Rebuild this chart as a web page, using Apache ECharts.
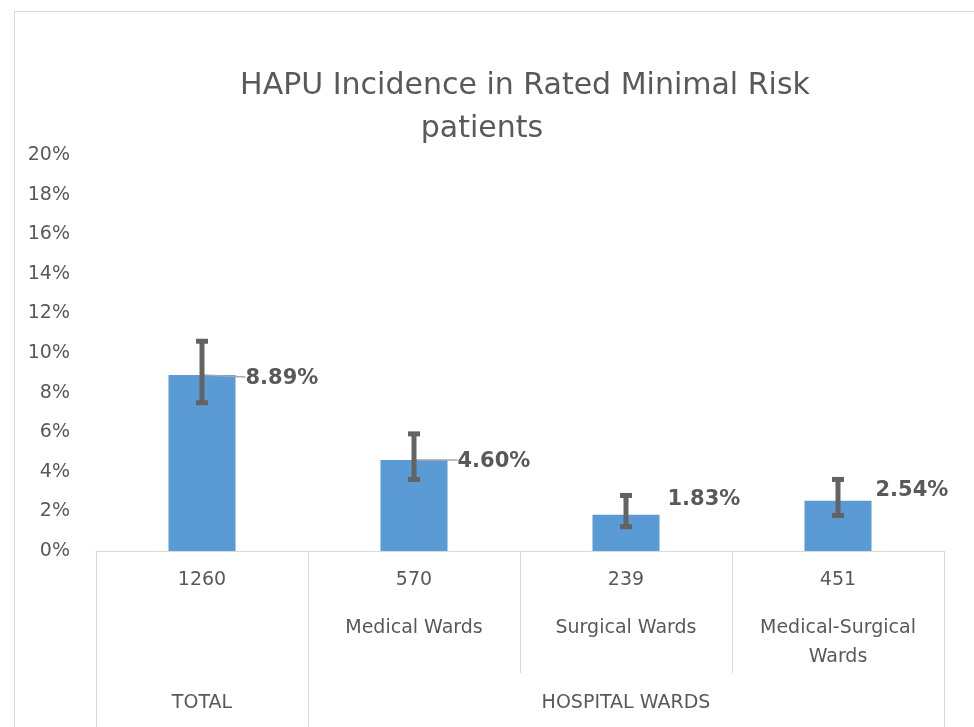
<!DOCTYPE html>
<html>
<head>
<meta charset="utf-8">
<script src="https://cdn.jsdelivr.net/npm/echarts@6/dist/echarts.min.js"></script>
<style>
    html, body { margin: 0; padding: 0; background: #fff; }
    #chart { width: 974px; height: 727px; }
</style>
</head>
<body>
<div id="chart"></div>
<script>
    // 数据
    const sampleSizes = ['1260', '570', '239', '451']
    const wardNames = ['', 'Medical Wards', 'Surgical Wards', 'Medical-Surgical\nWards']
    const incidence = [8.89, 4.60, 1.83, 2.54]
    const errLow = [7.46, 3.59, 1.20, 1.77]
    const errHigh = [10.62, 5.94, 2.83, 3.64]
    const groupNames = ['TOTAL', 'HOSPITAL WARDS']
    const groupSpans = [1, 3]
    const yTicks = [0, 2, 4, 6, 8, 10, 12, 14, 16, 18, 20]

    // 二级分类轴: 组名放在每组中间
    const groupAxisData = []
    const groupStarts = []
    groupNames.forEach(function (name, g) {
        groupStarts.push(groupAxisData.length)
        for (let k = 0; k < groupSpans[g]; k++) {
            groupAxisData.push(k === Math.floor(groupSpans[g] / 2) ? name : '')
        }
    })

    // 标签相对柱子右上角的偏移
    const labelShift = [[10, 4], [10, 2], [8, -15], [4, -10]]
    const barWidth = 67
    const textColor = '#595959'
    const lineColor = '#d9d9d9'
    const font = 'DejaVu Sans'

    const myChart = echarts.init(document.getElementById('chart'))

    const option = {
        backgroundColor: '#fff',
        textStyle: { fontFamily: font },
        title: [
            {
                text: 'HAPU Incidence in Rated Minimal Risk',
                left: 520,
                top: 66,
                textAlign: 'center',
                textStyle: { color: textColor, fontSize: 30, fontWeight: 'normal', fontFamily: font }
            },
            {
                text: 'patients',
                left: 477,
                top: 109,
                textAlign: 'center',
                textStyle: { color: textColor, fontSize: 30, fontWeight: 'normal', fontFamily: font }
            }
        ],
        graphic: [
            {
                type: 'rect',
                left: 12,
                top: 9,
                shape: { width: 960, height: 760 },
                style: { fill: 'none', stroke: lineColor, lineWidth: 1 },
                silent: true
            }
        ],
        grid: {
            left: 96,
            right: 30,
            top: 155,
            bottom: 176,
            containLabel: false
        },
        xAxis: [
            {
                type: 'category',
                data: sampleSizes,
                position: 'bottom',
                axisLine: { show: true, lineStyle: { color: lineColor, width: 1 } },
                axisTick: { show: true, interval: 0, length: 122, lineStyle: { color: lineColor, width: 1 } },
                axisLabel: {
                    interval: 0,
                    margin: 15,
                    color: textColor,
                    fontSize: 19,
                    fontFamily: font,
                    formatter: function (value, idx) {
                        let s = '{n|' + value + '}'
                        if (wardNames[idx]) {
                            s += '\n{g| }\n' + wardNames[idx].split('\n').map(function (t) {
                                return '{w|' + t + '}'
                            }).join('\n')
                        }
                        return s
                    },
                    rich: {
                        n: { fontSize: 19, lineHeight: 28, color: textColor, fontFamily: font },
                        g: { fontSize: 10, lineHeight: 20 },
                        w: { fontSize: 19, lineHeight: 29, color: textColor, fontFamily: font }
                    }
                }
            },
            {
                type: 'category',
                data: groupAxisData,
                position: 'bottom',
                offset: 122,
                axisLine: { show: false },
                axisTick: {
                    show: true,
                    length: 54,
                    interval: function (idx) { return groupStarts.indexOf(idx) >= 0 },
                    lineStyle: { color: lineColor, width: 1 }
                },
                axisLabel: {
                    interval: 0,
                    margin: 21,
                    color: textColor,
                    fontSize: 19,
                    fontFamily: font
                }
            }
        ],
        yAxis: {
            type: 'value',
            min: yTicks[0],
            max: yTicks[yTicks.length - 1],
            interval: yTicks[1] - yTicks[0],
            axisLine: { show: false },
            axisTick: { show: false },
            splitLine: { show: false },
            axisLabel: {
                color: textColor,
                fontSize: 19,
                fontFamily: font,
                margin: 26,
                formatter: '{value}%'
            }
        },
        series: [
            {
                type: 'bar',
                data: incidence,
                barWidth: barWidth,
                itemStyle: { color: '#5b9bd5' },
                label: {
                    show: true,
                    position: 'top',
                    color: textColor,
                    fontSize: 21,
                    fontWeight: 'bold',
                    fontFamily: font,
                    formatter: function (p) { return p.value.toFixed(2) + '%' }
                },
                labelLayout: function (p) {
                    const s = labelShift[p.dataIndex]
                    return {
                        x: p.rect.x + p.rect.width + s[0],
                        y: p.rect.y + s[1],
                        align: 'left',
                        verticalAlign: 'middle'
                    }
                },
                z: 2
            },
            {
                // 误差线 + 引导线
                type: 'custom',
                data: incidence.map(function (v, i) { return [i, errLow[i], errHigh[i], v] }),
                encode: { x: 0, y: [1, 2] },
                renderItem: function (params, api) {
                    const i = api.value(0)
                    const lo = api.coord([i, api.value(1)])
                    const hi = api.coord([i, api.value(2)])
                    const top = api.coord([i, api.value(3)])
                    const c = '#636363'
                    const children = []
                    const s = labelShift[i]
                    if (s[1] >= 0) {
                        children.push({
                            type: 'line',
                            shape: { x1: top[0], y1: top[1], x2: top[0] + barWidth / 2 + s[0], y2: top[1] + s[1] - 2 },
                            style: { stroke: '#a6a6a6', lineWidth: 1.5 }
                        })
                    }
                    children.push(
                        { type: 'rect', shape: { x: lo[0] - 2.5, y: hi[1], width: 5, height: lo[1] - hi[1] }, style: { fill: c } },
                        { type: 'rect', shape: { x: hi[0] - 6, y: hi[1] - 2, width: 12, height: 5 }, style: { fill: c } },
                        { type: 'rect', shape: { x: lo[0] - 6, y: lo[1] - 3, width: 12, height: 5 }, style: { fill: c } }
                    )
                    return { type: 'group', children: children }
                },
                z: 3
            }
        ]
    }

    myChart.setOption(option)
</script>
</body>
</html>
